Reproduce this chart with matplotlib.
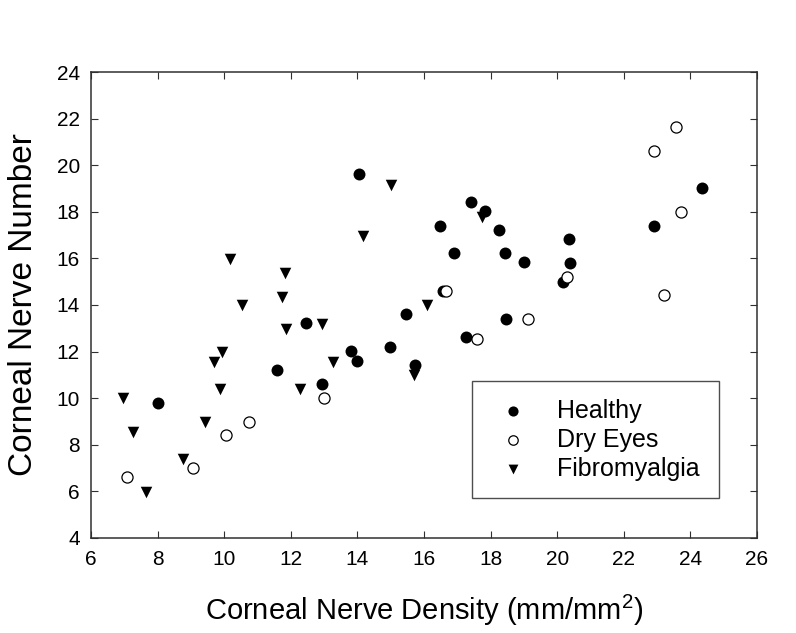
import matplotlib
matplotlib.use("Agg")
import matplotlib.pyplot as plt

# ── Data ──────────────────────────────────────────────────────────────────────
healthy_x = [14.05, 24.36, 17.40, 17.83, 16.48, 22.92, 18.24, 20.35, 16.90,
             18.42, 19.01, 20.37, 20.18, 16.58, 15.46, 18.46, 12.46, 17.25,
             14.98, 13.80, 13.98, 15.74, 11.58, 12.95, 8.00]
healthy_y = [19.62, 19.03, 18.41, 18.04, 17.41, 17.41, 17.22, 16.82, 16.22,
             16.22, 15.83, 15.82, 15.00, 14.61, 13.61, 13.40, 13.21, 12.61,
             12.21, 12.02, 11.61, 11.42, 11.21, 10.59, 9.80]

dry_x = [23.57, 22.92, 23.71, 20.28, 16.66, 23.22, 19.13, 17.60, 13.01,
         10.74, 10.05, 9.07, 7.09]
dry_y = [21.64, 20.63, 18.01, 15.22, 14.61, 14.43, 13.40, 12.53, 10.02,
         8.98, 8.40, 6.98, 6.60]

fibro_x = [15.02, 17.73, 14.18, 10.17, 11.84, 11.75, 10.54, 16.08, 12.93,
           11.85, 9.93, 9.69, 13.26, 15.71, 9.87, 12.28, 6.97, 9.42, 7.27,
           8.75, 7.64]
fibro_y = [19.14, 17.80, 16.95, 15.96, 15.36, 14.36, 14.00, 14.00, 13.17,
           12.96, 11.98, 11.56, 11.56, 10.99, 10.38, 10.38, 9.99, 8.98, 8.56,
           7.37, 5.98]

x_ticks = [6, 8, 10, 12, 14, 16, 18, 20, 22, 24, 26]
y_ticks = [4, 6, 8, 10, 12, 14, 16, 18, 20, 22, 24]

# ── Style ─────────────────────────────────────────────────────────────────────
plt.rcParams["font.family"] = ["Liberation Sans", "DejaVu Sans"]
plt.rcParams["mathtext.fontset"] = "custom"
plt.rcParams["mathtext.rm"] = "Liberation Sans"
plt.rcParams["mathtext.it"] = "Liberation Sans"

fig = plt.figure(figsize=(7.96, 6.33), dpi=100)
ax = fig.add_axes([0.1143, 0.1506, 0.8367, 0.7352])

fib = ax.scatter(fibro_x, fibro_y, marker="v", s=8.3 ** 2, color="black",
                 linewidths=0, zorder=3, label="Fibromyalgia")
hea = ax.scatter(healthy_x, healthy_y, marker="o", s=8.6 ** 2, color="black",
                 linewidths=0, zorder=4, label="Healthy")
dry = ax.scatter(dry_x, dry_y, marker="o", s=8.0 ** 2, facecolor="white",
                 edgecolor="black", linewidths=0.9, zorder=5, label="Dry Eyes")

ax.set_xlim(6, 26)
ax.set_ylim(4, 24)
ax.set_xticks(x_ticks)
ax.set_yticks(y_ticks)

ax.tick_params(direction="in", length=5, width=0.8, color="#303030",
               top=True, right=True, labelsize=15)
ax.tick_params(axis="x", pad=9)
ax.tick_params(axis="y", pad=8)
for sp in ax.spines.values():
    sp.set_linewidth(1.1)
    sp.set_color("#303030")

ax.set_xlabel("Corneal Nerve Density (mm/mm$^2$)", fontsize=21)
ax.set_ylabel("Corneal Nerve Number", fontsize=24)
ax.xaxis.set_label_coords(0.5, -0.118)
ax.yaxis.set_label_coords(-0.078, 0.5)

leg = ax.legend(handles=[hea, dry, fib], loc="lower left",
                bbox_to_anchor=(0.572, 0.085, 0.371, 0.243), mode="expand",
                borderaxespad=0, fontsize=18, frameon=True, fancybox=False,
                markerscale=0.85, handlelength=1.9, handletextpad=0.8,
                borderpad=0.7, labelspacing=0.2)
leg.get_frame().set_edgecolor("#202020")
leg.get_frame().set_linewidth(1.0)

fig.savefig("out.png", dpi=100)
